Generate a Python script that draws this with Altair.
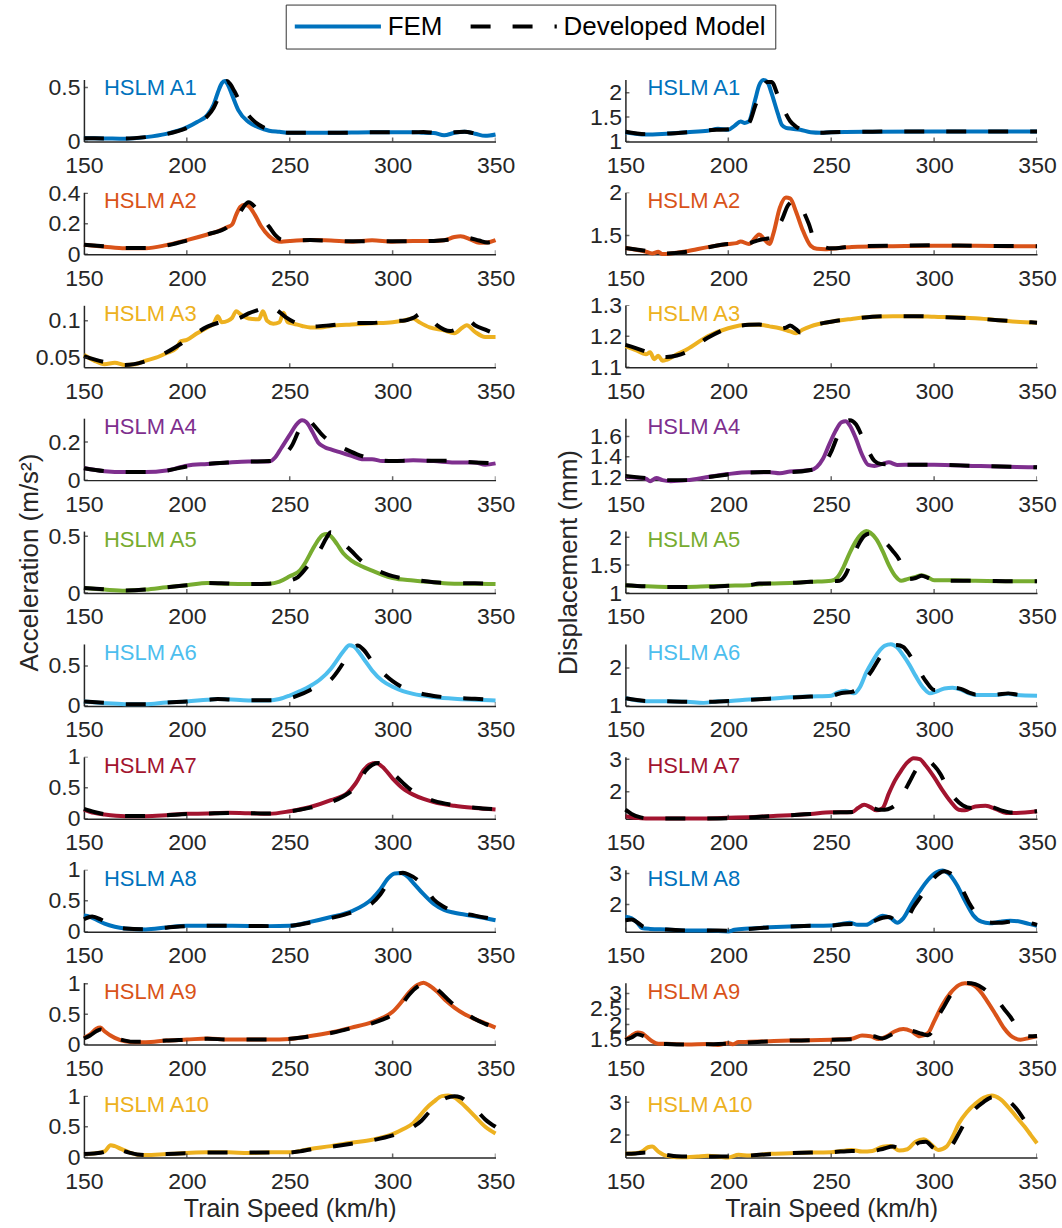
import altair as alt
import pandas as pd

FONT = "Liberation Sans"
AXIS = "#262626"

SPEED_TICKS = [150, 200, 250, 300, 350]
TRAINS = ["HSLM A1", "HSLM A2", "HSLM A3", "HSLM A4", "HSLM A5",
          "HSLM A6", "HSLM A7", "HSLM A8", "HSLM A9", "HSLM A10"]
COLORS = ["#0072BD", "#D95319", "#EDB120", "#7E2F8E", "#77AC30",
          "#4DBEEE", "#A2142F", "#0072BD", "#D95319", "#EDB120"]
SERIES = ["FEM", "Developed Model"]

# ---------------- Acceleration (m/s^2) ----------------
ACC_FEM_A1 = [(150,0.03),(160,0.028),(170,0.025),(180,0.04),(190,0.07),(200,0.13),(205,0.18),(210,0.245),(213,0.34),(215,0.45),(217,0.54),(218.5,0.56),(220,0.525),(222,0.43),(225,0.29),(230,0.18),(235,0.13),(240,0.1),(245,0.09),(250,0.08),(270,0.08),(290,0.085),(310,0.085),(315,0.08),(320,0.078),(325,0.057),(330,0.08),(335,0.09),(340,0.072),(345,0.052),(350,0.065)]
ACC_MOD_A1 = [(150,0.03),(170,0.027),(180,0.04),(190,0.068),(200,0.125),(205,0.17),(210,0.235),(213,0.31),(216,0.44),(218,0.53),(219.5,0.56),(221,0.535),(223,0.47),(226,0.36),(230,0.24),(235,0.155),(240,0.11),(245,0.09),(250,0.08),(270,0.08),(290,0.085),(310,0.085),(315,0.088),(320,0.08),(325,0.07),(330,0.085),(335,0.09),(340,0.075),(345,0.06)]
ACC_FEM_A2 = [(150,0.062),(160,0.05),(170,0.04),(180,0.04),(190,0.06),(200,0.093),(210,0.13),(215,0.15),(220,0.18),(222,0.195),(224,0.26),(226,0.31),(228,0.325),(230,0.315),(233,0.26),(236,0.185),(240,0.118),(243,0.09),(246,0.083),(250,0.087),(260,0.093),(270,0.09),(280,0.083),(290,0.092),(300,0.083),(310,0.088),(320,0.088),(325,0.092),(330,0.113),(333,0.118),(338,0.097),(342,0.076),(346,0.078),(350,0.093)]
ACC_MOD_A2 = [(150,0.062),(160,0.052),(170,0.042),(180,0.042),(190,0.058),(200,0.09),(210,0.13),(220,0.18),(224,0.23),(227,0.3),(230,0.34),(233,0.31),(236,0.25),(240,0.18),(243,0.125),(246,0.095),(250,0.09),(260,0.093),(280,0.085),(300,0.085),(320,0.088),(330,0.1),(336,0.108),(342,0.09),(346,0.078),(350,0.09)]
ACC_FEM_A3 = [(150,0.054),(155,0.046),(160,0.041),(165,0.043),(170,0.04),(175,0.041),(180,0.046),(185,0.05),(190,0.056),(195,0.063),(197,0.072),(200,0.074),(205,0.083),(210,0.091),(213,0.096),(215,0.106),(217,0.098),(220,0.1),(222,0.104),(224,0.113),(226,0.109),(230,0.103),(235,0.102),(237,0.113),(239,0.1),(242,0.096),(245,0.098),(247,0.111),(249,0.098),(252,0.096),(256,0.093),(260,0.091),(265,0.091),(270,0.093),(280,0.095),(290,0.0965),(300,0.098),(305,0.1),(310,0.103),(313,0.098),(318,0.091),(325,0.087),(330,0.083),(334,0.091),(336,0.094),(340,0.085),(345,0.078),(350,0.078)]
ACC_MOD_A3 = [(150,0.052),(160,0.044),(165,0.042),(170,0.04),(180,0.045),(190,0.057),(200,0.074),(210,0.092),(215,0.097),(220,0.1),(225,0.103),(230,0.11),(235,0.115),(240,0.12),(243,0.116),(248,0.105),(253,0.097),(260,0.092),(270,0.094),(280,0.097),(290,0.097),(300,0.1),(305,0.1),(310,0.104),(314,0.11),(318,0.104),(322,0.093),(328,0.086),(333,0.092),(337,0.1),(340,0.094),(345,0.088),(350,0.082)]
ACC_FEM_A4 = [(150,0.064),(160,0.047),(170,0.042),(180,0.042),(190,0.05),(200,0.076),(210,0.085),(220,0.093),(230,0.098),(240,0.098),(243,0.12),(246,0.17),(250,0.237),(253,0.288),(256,0.314),(258,0.305),(261,0.254),(264,0.195),(267,0.173),(270,0.161),(275,0.144),(280,0.127),(285,0.11),(290,0.11),(295,0.1),(300,0.1),(310,0.104),(320,0.1),(330,0.093),(340,0.093),(345,0.081),(350,0.088)]
ACC_MOD_A4 = [(150,0.062),(160,0.047),(170,0.042),(180,0.042),(190,0.05),(200,0.072),(210,0.085),(220,0.092),(230,0.097),(240,0.1),(245,0.115),(248,0.14),(251,0.18),(254,0.25),(257,0.31),(259,0.315),(262,0.285),(266,0.235),(270,0.2),(276,0.168),(284,0.13),(290,0.112),(300,0.1),(310,0.102),(320,0.102),(330,0.1),(340,0.093),(350,0.088)]
ACC_FEM_A5 = [(150,0.044),(160,0.03),(170,0.02),(180,0.03),(190,0.05),(200,0.068),(210,0.088),(220,0.082),(230,0.08),(240,0.082),(245,0.1),(250,0.147),(255,0.2),(258,0.28),(261,0.38),(264,0.47),(266,0.51),(268,0.52),(270,0.5),(273,0.43),(276,0.35),(280,0.285),(285,0.235),(290,0.197),(295,0.16),(300,0.132),(310,0.11),(320,0.094),(330,0.082),(340,0.082),(350,0.08)]
ACC_MOD_A5 = [(150,0.045),(160,0.032),(170,0.022),(180,0.03),(190,0.05),(200,0.068),(210,0.088),(220,0.084),(230,0.08),(240,0.082),(245,0.095),(250,0.11),(254,0.14),(258,0.22),(262,0.31),(265,0.39),(268,0.49),(270,0.535),(273,0.5),(276,0.44),(280,0.37),(285,0.28),(290,0.22),(295,0.18),(300,0.148),(310,0.118),(320,0.095),(330,0.085),(340,0.085),(350,0.08)]
ACC_FEM_A6 = [(150,0.056),(160,0.034),(170,0.022),(180,0.022),(190,0.043),(200,0.056),(210,0.078),(215,0.086),(220,0.082),(230,0.069),(240,0.069),(245,0.086),(250,0.13),(255,0.185),(260,0.25),(265,0.336),(270,0.466),(273,0.573),(276,0.68),(279,0.76),(281,0.745),(284,0.66),(287,0.55),(290,0.444),(295,0.315),(300,0.24),(305,0.185),(310,0.15),(320,0.112),(330,0.09),(340,0.078),(350,0.069)]
ACC_MOD_A6 = [(150,0.056),(160,0.04),(170,0.022),(180,0.022),(190,0.043),(200,0.055),(210,0.075),(215,0.085),(220,0.08),(230,0.07),(240,0.07),(245,0.075),(250,0.095),(255,0.14),(260,0.2),(265,0.27),(270,0.33),(274,0.46),(278,0.62),(281,0.73),(283,0.755),(286,0.7),(290,0.56),(295,0.42),(300,0.31),(305,0.23),(310,0.18),(320,0.125),(330,0.1),(340,0.09),(350,0.075)]
ACC_FEM_A7 = [(150,0.15),(155,0.096),(160,0.07),(170,0.043),(180,0.043),(190,0.058),(200,0.08),(210,0.085),(220,0.096),(230,0.09),(240,0.08),(250,0.122),(260,0.19),(270,0.3),(278,0.415),(282,0.57),(286,0.79),(289,0.88),(292,0.9),(295,0.84),(300,0.65),(305,0.49),(310,0.39),(315,0.32),(320,0.27),(330,0.21),(340,0.175),(350,0.15)]
ACC_MOD_A7 = [(150,0.16),(155,0.11),(160,0.075),(170,0.045),(180,0.045),(190,0.058),(200,0.078),(210,0.085),(220,0.092),(230,0.09),(240,0.085),(250,0.12),(260,0.18),(270,0.27),(276,0.36),(280,0.45),(284,0.63),(287,0.78),(290,0.87),(293,0.9),(296,0.86),(300,0.74),(305,0.58),(310,0.44),(315,0.35),(320,0.29),(330,0.22),(340,0.18),(350,0.155)]
ACC_FEM_A8 = [(150,0.26),(153,0.24),(155,0.21),(160,0.13),(165,0.08),(170,0.053),(180,0.037),(190,0.068),(200,0.095),(210,0.095),(220,0.095),(230,0.092),(240,0.09),(250,0.095),(260,0.158),(270,0.237),(280,0.33),(290,0.53),(294,0.68),(298,0.87),(301,0.94),(304,0.947),(307,0.895),(310,0.79),(315,0.605),(320,0.447),(325,0.35),(330,0.305),(340,0.25),(350,0.185)]
ACC_MOD_A8 = [(150,0.2),(154,0.245),(158,0.2),(162,0.12),(166,0.075),(170,0.052),(180,0.04),(190,0.065),(200,0.09),(210,0.095),(220,0.095),(230,0.092),(240,0.09),(250,0.095),(260,0.15),(270,0.22),(280,0.31),(286,0.39),(290,0.46),(294,0.6),(298,0.8),(302,0.93),(305,0.95),(308,0.92),(312,0.84),(316,0.7),(320,0.52),(325,0.4),(330,0.33),(340,0.26),(350,0.2)]
ACC_FEM_A9 = [(150,0.11),(153,0.167),(156,0.26),(158,0.28),(160,0.22),(165,0.11),(170,0.055),(175,0.04),(180,0.04),(190,0.067),(200,0.083),(210,0.1),(220,0.083),(230,0.083),(240,0.083),(250,0.094),(260,0.14),(270,0.2),(280,0.28),(290,0.37),(295,0.44),(300,0.54),(304,0.69),(308,0.86),(312,0.98),(315,1.02),(318,0.97),(322,0.86),(326,0.72),(330,0.61),(335,0.5),(340,0.42),(345,0.35),(350,0.28)]
ACC_MOD_A9 = [(150,0.1),(153,0.15),(156,0.22),(158,0.25),(161,0.2),(165,0.12),(170,0.065),(175,0.045),(180,0.045),(190,0.067),(200,0.08),(210,0.095),(220,0.085),(230,0.085),(240,0.085),(250,0.095),(260,0.135),(270,0.19),(280,0.27),(290,0.35),(295,0.41),(300,0.5),(304,0.64),(308,0.82),(312,0.95),(316,1.0),(319,0.98),(323,0.87),(327,0.74),(331,0.62),(336,0.51),(340,0.42),(345,0.34),(348,0.3)]
ACC_FEM_A10 = [(150,0.056),(155,0.067),(160,0.1),(163,0.2),(165,0.185),(168,0.14),(172,0.084),(176,0.045),(180,0.04),(190,0.056),(200,0.073),(210,0.084),(220,0.084),(230,0.073),(240,0.084),(250,0.084),(260,0.14),(270,0.185),(280,0.24),(290,0.29),(300,0.38),(305,0.46),(310,0.56),(313,0.67),(316,0.79),(320,0.91),(324,1.0),(327,1.01),(330,0.98),(335,0.84),(340,0.67),(345,0.5),(350,0.39)]
ACC_MOD_A10 = [(150,0.056),(155,0.065),(160,0.09),(164,0.16),(168,0.12),(172,0.08),(176,0.05),(180,0.042),(190,0.055),(200,0.07),(210,0.08),(220,0.08),(230,0.08),(240,0.08),(250,0.082),(255,0.1),(260,0.13),(270,0.175),(280,0.225),(290,0.28),(300,0.36),(305,0.42),(310,0.5),(314,0.6),(318,0.75),(322,0.88),(326,0.97),(330,1.0),(333,0.98),(337,0.88),(341,0.76),(345,0.62),(350,0.5)]

# ---------------- Displacement (mm) ----------------
DISP_FEM_A1 = [(150,1.19),(160,1.14),(170,1.16),(180,1.19),(190,1.22),(195,1.26),(200,1.24),(203,1.32),(206,1.41),(208,1.38),(210,1.41),(213,1.85),(215,2.15),(217,2.26),(219,2.22),(221,1.99),(224,1.58),(226,1.34),(228,1.28),(231,1.26),(235,1.24),(240,1.19),(245,1.18),(250,1.19),(270,1.2),(300,1.205),(350,1.205)]
DISP_MOD_A1 = [(150,1.2),(160,1.15),(170,1.16),(180,1.19),(190,1.23),(200,1.25),(205,1.3),(210,1.38),(213,1.72),(216,2.05),(219,2.22),(221,2.22),(224,1.95),(227,1.65),(230,1.42),(233,1.3),(237,1.22),(240,1.2),(245,1.18),(250,1.19),(270,1.2),(300,1.205),(350,1.205)]
DISP_FEM_A2 = [(150,1.353),(160,1.31),(163,1.29),(166,1.31),(168,1.283),(172,1.29),(180,1.316),(190,1.364),(200,1.4),(204,1.41),(206,1.43),(210,1.4),(215,1.51),(218,1.44),(220,1.4),(222,1.53),(225,1.82),(228,1.94),(230,1.93),(233,1.77),(236,1.57),(240,1.38),(243,1.345),(247,1.34),(250,1.345),(260,1.364),(280,1.375),(300,1.38),(320,1.38),(340,1.375),(350,1.375)]
DISP_MOD_A2 = [(150,1.353),(160,1.32),(170,1.29),(180,1.31),(190,1.36),(200,1.4),(210,1.41),(214,1.44),(218,1.46),(221,1.47),(224,1.6),(226,1.68),(229,1.85),(232,1.9),(235,1.84),(239,1.64),(242,1.44),(246,1.37),(250,1.35),(260,1.37),(280,1.38),(300,1.385),(320,1.38),(350,1.375)]
DISP_FEM_A3 = [(150,1.168),(155,1.155),(160,1.142),(162,1.148),(164,1.126),(166,1.137),(168,1.121),(170,1.124),(175,1.142),(180,1.158),(190,1.2),(200,1.226),(210,1.237),(215,1.237),(220,1.232),(225,1.226),(230,1.216),(233,1.21),(236,1.221),(240,1.232),(250,1.247),(260,1.256),(270,1.263),(280,1.265),(290,1.265),(300,1.263),(320,1.258),(340,1.247),(350,1.244)]
DISP_MOD_A3 = [(150,1.172),(160,1.15),(165,1.137),(170,1.133),(175,1.138),(180,1.15),(190,1.195),(200,1.226),(210,1.237),(215,1.238),(220,1.233),(225,1.225),(228,1.228),(230,1.235),(233,1.222),(235,1.212),(238,1.22),(240,1.23),(250,1.247),(260,1.256),(270,1.263),(280,1.265),(290,1.265),(300,1.263),(320,1.257),(340,1.248),(350,1.244)]
DISP_FEM_A4 = [(150,1.2),(160,1.184),(162,1.16),(165,1.19),(168,1.17),(172,1.16),(180,1.17),(190,1.2),(200,1.23),(210,1.248),(220,1.248),(225,1.238),(230,1.254),(240,1.27),(243,1.3),(246,1.38),(249,1.52),(252,1.65),(255,1.74),(257,1.75),(259,1.71),(262,1.58),(265,1.42),(268,1.32),(271,1.31),(275,1.33),(278,1.345),(282,1.32),(290,1.322),(300,1.322),(320,1.31),(340,1.3),(350,1.296)]
DISP_MOD_A4 = [(150,1.21),(160,1.19),(170,1.17),(180,1.17),(190,1.2),(200,1.225),(210,1.245),(220,1.25),(230,1.25),(240,1.27),(244,1.29),(247,1.34),(250,1.45),(253,1.6),(256,1.72),(259,1.76),(262,1.72),(265,1.6),(268,1.46),(271,1.36),(274,1.33),(280,1.325),(290,1.322),(300,1.322),(320,1.31),(340,1.3),(350,1.296)]
DISP_FEM_A5 = [(150,1.14),(160,1.12),(170,1.11),(180,1.11),(190,1.12),(200,1.13),(210,1.14),(220,1.17),(230,1.18),(240,1.2),(250,1.22),(253,1.28),(256,1.47),(259,1.72),(262,1.93),(265,2.07),(267,2.11),(269,2.08),(272,1.96),(275,1.75),(278,1.5),(281,1.31),(284,1.22),(287,1.25),(291,1.29),(294,1.32),(297,1.28),(300,1.23),(310,1.23),(320,1.22),(340,1.21),(350,1.21)]
DISP_MOD_A5 = [(150,1.14),(160,1.12),(170,1.11),(180,1.11),(190,1.11),(200,1.13),(210,1.14),(215,1.17),(220,1.17),(230,1.18),(240,1.2),(250,1.21),(254,1.22),(257,1.33),(260,1.6),(263,1.85),(266,2.02),(269,2.07),(273,1.98),(277,1.88),(280,1.75),(283,1.6),(286,1.35),(288,1.25),(291,1.27),(294,1.31),(297,1.27),(300,1.23),(310,1.22),(320,1.22),(340,1.21),(350,1.21)]
DISP_FEM_A6 = [(150,1.21),(160,1.125),(170,1.125),(180,1.11),(188,1.08),(195,1.12),(200,1.125),(210,1.17),(220,1.19),(230,1.225),(240,1.25),(250,1.27),(253,1.35),(257,1.4),(261,1.33),(264,1.5),(267,1.875),(270,2.17),(273,2.42),(276,2.58),(279,2.625),(282,2.54),(285,2.33),(288,2.08),(291,1.79),(295,1.46),(298,1.33),(301,1.375),(305,1.46),(309,1.48),(313,1.43),(317,1.33),(320,1.29),(330,1.29),(336,1.32),(340,1.29),(350,1.27)]
DISP_MOD_A6 = [(150,1.2),(160,1.13),(170,1.12),(180,1.11),(190,1.11),(200,1.13),(210,1.16),(220,1.19),(230,1.22),(240,1.245),(250,1.27),(255,1.34),(260,1.37),(263,1.45),(266,1.65),(270,1.95),(274,2.3),(278,2.55),(282,2.6),(285,2.55),(288,2.35),(292,2.0),(296,1.65),(300,1.42),(304,1.42),(309,1.48),(313,1.45),(317,1.35),(320,1.3),(330,1.3),(336,1.33),(340,1.3),(350,1.27)]
DISP_FEM_A7 = [(150,1.25),(155,1.2),(160,1.18),(170,1.18),(180,1.18),(190,1.18),(200,1.2),(210,1.22),(220,1.25),(230,1.28),(240,1.32),(250,1.37),(260,1.37),(263,1.5),(266,1.6),(269,1.53),(272,1.43),(275,1.5),(278,1.95),(281,2.35),(284,2.65),(287,2.9),(290,3.03),(293,3.0),(296,2.8),(300,2.45),(304,2.05),(308,1.7),(312,1.45),(315,1.43),(320,1.55),(325,1.57),(330,1.47),(335,1.35),(340,1.35),(350,1.4)]
DISP_MOD_A7 = [(150,1.45),(153,1.32),(157,1.22),(160,1.19),(170,1.18),(180,1.18),(190,1.18),(200,1.19),(210,1.21),(220,1.25),(230,1.28),(240,1.32),(250,1.36),(260,1.38),(265,1.45),(270,1.5),(273,1.45),(276,1.45),(279,1.5),(282,1.65),(285,1.95),(288,2.3),(291,2.65),(294,2.9),(297,2.95),(300,2.8),(303,2.55),(307,2.05),(310,1.8),(314,1.58),(318,1.5),(322,1.55),(328,1.53),(333,1.42),(338,1.36),(350,1.4)]
DISP_FEM_A8 = [(150,1.61),(153,1.56),(156,1.4),(158,1.25),(162,1.22),(170,1.2),(180,1.17),(190,1.17),(200,1.14),(203,1.19),(210,1.23),(220,1.27),(230,1.3),(240,1.32),(250,1.33),(255,1.38),(259,1.42),(263,1.35),(267,1.35),(271,1.5),(275,1.64),(279,1.56),(282,1.42),(285,1.56),(289,2.02),(293,2.43),(297,2.79),(301,3.03),(304,3.1),(307,3.0),(311,2.64),(315,2.12),(319,1.66),(323,1.45),(327,1.4),(332,1.45),(337,1.48),(342,1.45),(346,1.38),(350,1.32)]
DISP_MOD_A8 = [(150,1.5),(153,1.52),(156,1.42),(159,1.28),(165,1.22),(170,1.2),(180,1.17),(190,1.17),(200,1.16),(210,1.22),(220,1.27),(230,1.3),(240,1.32),(250,1.33),(255,1.36),(260,1.38),(265,1.36),(270,1.45),(275,1.58),(278,1.6),(282,1.5),(286,1.5),(290,1.92),(294,2.3),(298,2.7),(302,2.98),(305,3.07),(308,3.0),(311,2.8),(314,2.45),(317,2.05),(320,1.75),(324,1.5),(328,1.42),(333,1.42),(338,1.46),(344,1.44),(350,1.35)]
DISP_FEM_A9 = [(150,1.51),(153,1.64),(156,1.74),(158,1.72),(160,1.62),(163,1.46),(166,1.38),(170,1.38),(180,1.35),(190,1.37),(195,1.34),(200,1.4),(202,1.36),(205,1.43),(210,1.44),(220,1.46),(230,1.48),(240,1.49),(250,1.51),(260,1.54),(265,1.64),(269,1.62),(273,1.53),(277,1.62),(281,1.78),(285,1.85),(289,1.78),(293,1.62),(297,1.72),(300,2.1),(304,2.63),(308,3.02),(312,3.27),(315,3.33),(318,3.3),(322,3.1),(326,2.73),(330,2.31),(334,1.88),(338,1.6),(342,1.51),(346,1.56),(350,1.62)]
DISP_MOD_A9 = [(150,1.5),(153,1.58),(156,1.68),(159,1.62),(163,1.45),(167,1.38),(170,1.37),(180,1.35),(190,1.36),(200,1.38),(210,1.42),(220,1.45),(230,1.48),(240,1.49),(250,1.51),(260,1.52),(265,1.6),(270,1.62),(275,1.55),(280,1.7),(285,1.85),(290,1.78),(294,1.7),(297,1.65),(300,1.9),(302,2.25),(305,2.6),(308,2.95),(312,3.25),(316,3.34),(320,3.3),(324,3.16),(327,3.0),(330,2.84),(334,2.5),(337,2.25),(340,1.95),(343,1.7),(346,1.62),(350,1.63)]
DISP_FEM_A10 = [(150,1.43),(155,1.45),(158,1.5),(161,1.63),(163,1.65),(166,1.5),(170,1.37),(175,1.33),(180,1.33),(185,1.35),(190,1.37),(195,1.35),(200,1.32),(205,1.4),(210,1.38),(220,1.43),(230,1.45),(240,1.47),(250,1.48),(260,1.55),(265,1.5),(270,1.52),(275,1.65),(279,1.67),(283,1.53),(287,1.57),(291,1.8),(295,1.87),(298,1.75),(302,1.55),(306,1.65),(309,1.95),(312,2.35),(316,2.7),(320,2.95),(324,3.13),(328,3.2),(332,3.1),(336,2.85),(340,2.55),(344,2.25),(347,2.0),(350,1.75)]
DISP_MOD_A10 = [(150,1.43),(155,1.44),(160,1.47),(165,1.45),(170,1.4),(175,1.36),(180,1.35),(190,1.35),(200,1.35),(210,1.38),(220,1.42),(230,1.45),(240,1.47),(250,1.48),(260,1.52),(265,1.52),(270,1.52),(275,1.58),(280,1.65),(285,1.55),(289,1.62),(293,1.78),(296,1.8),(300,1.6),(304,1.55),(308,1.65),(312,2.05),(316,2.5),(320,2.8),(324,3.0),(328,3.15),(332,3.17),(336,3.05),(340,2.8),(344,2.45),(348,2.1),(350,1.98)]

ACC_FEM = [ACC_FEM_A1, ACC_FEM_A2, ACC_FEM_A3, ACC_FEM_A4, ACC_FEM_A5, ACC_FEM_A6, ACC_FEM_A7, ACC_FEM_A8, ACC_FEM_A9, ACC_FEM_A10]
ACC_MOD = [ACC_MOD_A1, ACC_MOD_A2, ACC_MOD_A3, ACC_MOD_A4, ACC_MOD_A5, ACC_MOD_A6, ACC_MOD_A7, ACC_MOD_A8, ACC_MOD_A9, ACC_MOD_A10]
DISP_FEM = [DISP_FEM_A1, DISP_FEM_A2, DISP_FEM_A3, DISP_FEM_A4, DISP_FEM_A5, DISP_FEM_A6, DISP_FEM_A7, DISP_FEM_A8, DISP_FEM_A9, DISP_FEM_A10]
DISP_MOD = [DISP_MOD_A1, DISP_MOD_A2, DISP_MOD_A3, DISP_MOD_A4, DISP_MOD_A5, DISP_MOD_A6, DISP_MOD_A7, DISP_MOD_A8, DISP_MOD_A9, DISP_MOD_A10]

ACC_DOMAINS = [[0, 0.575], [0, 0.405], [0.037, 0.121], [0, 0.325], [0, 0.545],
               [0, 0.775], [0, 1.0], [0, 1.0], [0, 1.02], [0, 1.01]]
ACC_TICKS = [[0, 0.5], [0, 0.2, 0.4], [0.05, 0.1], [0, 0.2], [0, 0.5],
             [0, 0.5], [0, 0.5, 1], [0, 0.5, 1], [0, 0.5, 1], [0, 0.5, 1]]
DISP_DOMAINS = [[1.0, 2.27], [1.28, 2.0], [1.1, 1.3], [1.17, 1.78], [1.0, 2.11],
                [1.0, 2.63], [1.17, 3.07], [1.13, 3.12], [1.35, 3.35], [1.32, 3.2]]
DISP_TICKS = [[1, 1.5, 2], [1.5, 2], [1.1, 1.2, 1.3], [1.2, 1.4, 1.6], [1, 1.5, 2],
              [1, 2], [2, 3], [2, 3], [1.5, 2, 2.5, 3], [2, 3]]

W, H = 412, 62
DASH = [20, 22]


def panel(i, fem, mod, dom, yticks, ytitle, ytitle_x, label_x, with_legend):
    color = COLORS[i]
    xs = alt.Scale(domain=[150, 350], nice=False, zero=False)
    ys = alt.Scale(domain=dom, nice=False, zero=False)
    if i == 9:
        xaxis = alt.Axis(values=SPEED_TICKS, format="d", title="Train Speed (km/h)",
                         titleY=59, titleBaseline="alphabetic", titleFontSize=25)
    else:
        xaxis = alt.Axis(values=SPEED_TICKS, format="d", title=None)
    if ytitle:
        yaxis = alt.Axis(values=yticks, format="~g", title=ytitle, titleX=ytitle_x,
                         titleY=H / 2, titleAngle=270, titleBaseline="middle",
                         titleAlign="center")
    else:
        yaxis = alt.Axis(values=yticks, format="~g", title=None)
    x_enc = alt.X("speed:Q", scale=xs, axis=xaxis)
    y_enc = alt.Y("value:Q", scale=ys, axis=yaxis)

    fem_df = pd.DataFrame(fem, columns=["speed", "value"])
    mod_df = pd.DataFrame(mod, columns=["speed", "value"])

    layers = [
        alt.Chart(fem_df).mark_line(color=color, strokeWidth=4, interpolate="monotone",
                                    strokeCap="butt").encode(x=x_enc, y=y_enc),
        alt.Chart(mod_df).mark_line(color="black", strokeWidth=4, interpolate="monotone",
                                    strokeDash=DASH, strokeCap="butt").encode(x=x_enc, y=y_enc),
        alt.Chart(pd.DataFrame({"speed": SPEED_TICKS})).mark_tick(
            color=AXIS, thickness=1.5, size=8, clip=True, orient="vertical"
        ).encode(x=x_enc, y=alt.value(H)),
        alt.Chart(pd.DataFrame({"value": yticks})).mark_tick(
            color=AXIS, thickness=1.5, size=8, clip=True, orient="horizontal"
        ).encode(y=y_enc, x=alt.value(0)),
        alt.Chart(pd.DataFrame({"label": [TRAINS[i]]})).mark_text(
            align="left", baseline="alphabetic", fontSize=22, font=FONT, color=color
        ).encode(x=alt.value(label_x), y=alt.value(16), text="label:N"),
    ]
    if with_legend:
        leg = alt.Legend(title=None, orient="none", legendX=202, legendY=-75,
                         direction="horizontal", columns=2, symbolType="M-1.19,0H6.74",
                         symbolSize=473, symbolStrokeWidth=4, labelFontSize=26,
                         labelFont=FONT, labelColor="black", labelOffset=67,
                         labelLimit=400, columnPadding=20, padding=9,
                         strokeColor="#333333", fillColor="white")
        leg_df = pd.DataFrame({"series": SERIES})
        layers.append(
            alt.Chart(leg_df).mark_line(strokeWidth=4, strokeCap="butt").encode(
                x=alt.value(0), y=alt.value(0),
                color=alt.Color("series:N", scale=alt.Scale(domain=SERIES, range=["#0072BD", "black"]), legend=leg),
                strokeDash=alt.StrokeDash("series:N", scale=alt.Scale(domain=SERIES, range=[[1, 0], DASH]), legend=leg),
            )
        )
    return alt.layer(*layers).properties(width=W, height=H)


panels = []
for i in range(10):
    panels.append(panel(i, ACC_FEM[i], ACC_MOD[i], ACC_DOMAINS[i], ACC_TICKS[i],
                        "Acceleration (m/s²)" if i == 4 else "", -54, 20, i == 0))
    panels.append(panel(i, DISP_FEM[i], DISP_MOD[i], DISP_DOMAINS[i], DISP_TICKS[i],
                        "Displacement (mm)" if i == 4 else "", -57, 22, False))

chart = alt.ConcatChart(concat=panels, columns=2, spacing={"row": 51, "column": 130},
                        bounds="flush").properties(
    padding={"left": 16, "top": 3, "right": 5, "bottom": 5},
    background="white",
).configure_view(
    stroke="transparent"
).configure_axis(
    labelFont=FONT, labelFontSize=23, labelColor=AXIS,
    domainColor=AXIS, domainWidth=1.5, ticks=False, tickSize=0, grid=False,
    labelOverlap=False, labelFlush=False,
    titleFont=FONT, titleFontSize=26, titleFontWeight="normal", titleColor=AXIS,
).configure_axisX(labelPadding=13).configure_axisY(labelPadding=4)

chart.save("out.html", embed_options={"renderer": "svg", "actions": False})
